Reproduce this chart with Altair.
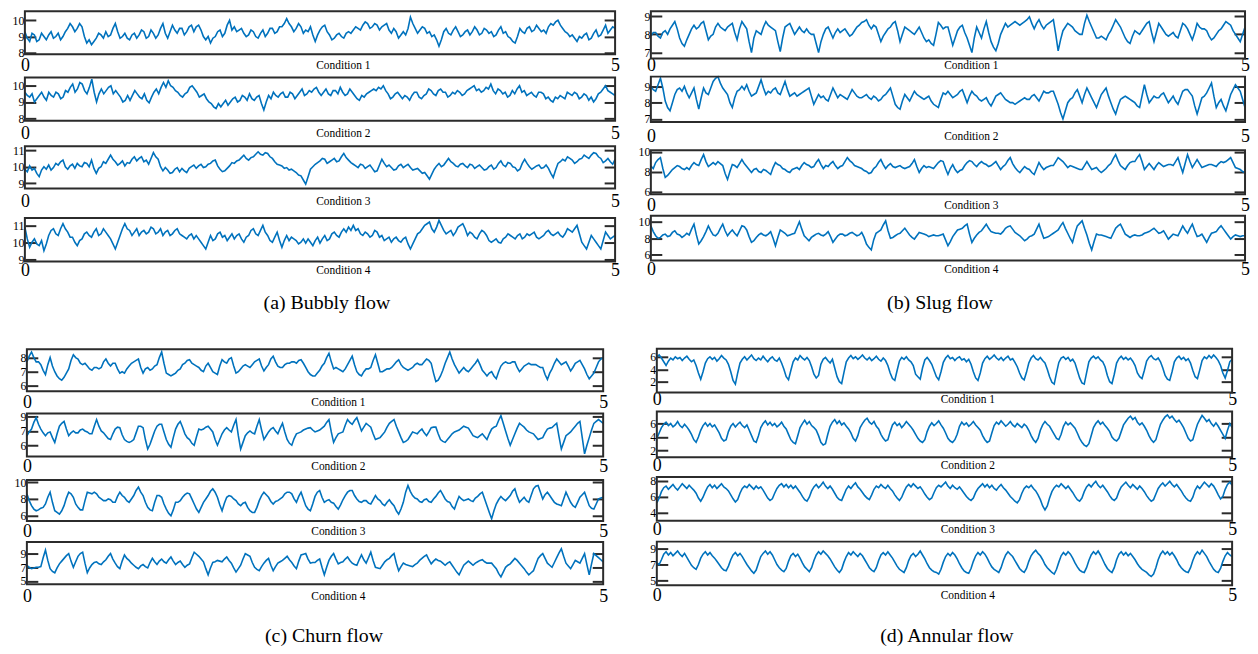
import altair as alt
import pandas as pd

# ---------------- values (evenly spaced over 0..5 s) ----------------
a1 = [9.3, 8.9, 8.7, 9.2, 9.1, 8.7, 8.8, 9.2, 9.0, 8.8, 9.1, 9.3, 8.9, 9.0, 9.2, 8.8, 9.0, 9.3,
      9.5, 9.8, 9.6, 9.3, 9.5, 9.8, 9.6, 9.0, 8.6, 8.8, 8.5, 8.7, 8.9, 9.2, 9.1, 8.9, 9.3, 9.0,
      9.1, 9.5, 9.8, 9.3, 8.9, 9.0, 9.2, 8.9, 8.8, 9.1, 9.2, 8.9, 9.1, 9.4, 9.3, 8.9, 9.0, 9.4,
      9.2, 8.9, 9.1, 9.5, 9.8, 9.2, 8.9, 9.3, 9.7, 9.4, 9.2, 9.5, 9.5, 9.1, 9.3, 9.6, 9.7, 9.3,
      9.6, 9.7, 9.4, 9.0, 8.8, 9.0, 8.6, 8.9, 9.0, 9.3, 9.4, 9.0, 9.2, 9.7, 10.0, 9.4, 9.6, 9.3,
      9.4, 9.5, 9.2, 9.0, 9.1, 9.4, 9.3, 9.0, 8.9, 9.2, 9.4, 9.0, 9.2, 9.5, 9.5, 9.2, 9.3, 9.6,
      9.6, 9.8, 10.1, 9.8, 9.6, 9.3, 9.5, 9.8, 9.6, 9.2, 9.4, 9.3, 9.6, 9.1, 8.7, 9.1, 9.4, 9.6,
      9.7, 9.3, 9.1, 8.8, 8.9, 9.1, 9.2, 9.0, 8.9, 9.2, 9.3, 9.2, 9.4, 9.6, 9.5, 9.4, 9.7, 9.9,
      9.8, 9.5, 9.6, 9.8, 9.7, 9.4, 9.6, 9.7, 9.8, 9.4, 9.2, 9.5, 9.3, 8.9, 9.1, 9.3, 9.1, 9.5,
      10.2, 9.8, 9.5, 9.2, 9.4, 9.6, 9.5, 9.2, 9.3, 9.0, 9.1, 8.8, 8.4, 8.8, 9.3, 9.5, 9.2, 9.1,
      9.4, 9.6, 9.3, 9.0, 9.1, 9.3, 9.4, 9.1, 9.3, 9.6, 9.4, 9.1, 9.2, 9.5, 9.4, 9.2, 9.3, 9.0,
      9.1, 9.4, 9.6, 9.2, 9.3, 9.0, 8.9, 8.7, 8.6, 9.0, 9.5, 9.3, 9.2, 9.5, 9.6, 9.3, 9.4, 9.7,
      9.5, 9.3, 9.4, 9.2, 9.6, 9.8, 9.7, 9.9, 10.0, 9.7, 9.5, 9.3, 9.2, 9.0, 9.1, 8.9, 8.7, 9.0,
      8.9, 9.1, 9.2, 8.8, 8.9, 9.2, 9.4, 9.0, 9.1, 9.4, 9.7, 9.2, 9.4, 9.6, 9.5]
a2 = [9.6, 9.4, 9.3, 9.5, 9.0, 9.2, 9.4, 9.6, 9.3, 9.1, 9.6, 9.4, 9.3, 9.6, 9.5, 9.2, 9.3, 9.7,
      9.6, 9.9, 10.1, 9.6, 9.8, 10.2, 10.1, 9.7, 9.5, 9.9, 10.4, 9.6, 9.0, 9.5, 9.8, 9.5, 9.7, 9.9,
      10.0, 9.5, 9.7, 9.5, 9.3, 9.0, 9.1, 9.4, 9.1, 9.4, 9.7, 9.5, 9.3, 9.2, 9.5, 9.1, 8.95, 9.3,
      9.6, 9.8, 9.5, 9.9, 10.2, 9.9, 10.3, 10.0, 9.9, 9.7, 9.6, 9.4, 9.3, 9.5, 9.6, 9.9, 10.0, 9.8,
      9.6, 9.3, 9.4, 9.5, 9.2, 9.0, 8.9, 8.7, 8.6, 8.9, 8.7, 8.9, 9.1, 8.8, 9.0, 9.2, 9.3, 9.0,
      9.1, 9.4, 9.3, 9.1, 9.5, 9.2, 9.1, 9.3, 9.4, 8.9, 8.5, 9.0, 9.4, 9.2, 9.6, 9.4, 9.3, 9.5,
      9.6, 9.3, 9.3, 9.6, 9.5, 9.2, 9.4, 9.6, 9.8, 9.4, 9.5, 9.7, 9.6, 9.8, 9.9, 9.6, 9.4, 9.6,
      9.8, 9.5, 9.4, 9.7, 9.7, 9.5, 9.9, 9.6, 9.4, 9.5, 9.8, 9.6, 9.4, 9.2, 9.1, 9.4, 9.3, 9.5,
      9.6, 9.7, 9.8, 9.7, 9.9, 9.8, 10.0, 9.7, 9.5, 9.2, 9.3, 9.5, 9.6, 9.4, 9.2, 9.4, 9.3, 9.1,
      9.4, 9.6, 9.6, 9.3, 9.2, 9.4, 9.5, 9.8, 9.7, 9.5, 9.4, 9.7, 9.8, 9.6, 9.6, 9.3, 9.4, 9.6,
      9.5, 9.7, 9.6, 9.4, 9.5, 9.7, 9.8, 9.9, 10.0, 9.7, 9.8, 9.6, 9.7, 9.9, 9.8, 10.1, 9.7, 9.5,
      9.8, 9.7, 9.5, 9.6, 9.3, 9.4, 9.7, 9.5, 9.8, 10.0, 9.6, 9.7, 9.4, 9.5, 9.6, 9.4, 9.3, 9.6,
      9.6, 9.5, 9.2, 9.3, 9.1, 9.0, 9.3, 9.2, 9.4, 9.3, 9.2, 9.6, 9.5, 9.4, 9.6, 9.5, 9.2, 9.3,
      9.5, 9.4, 9.1, 9.3, 9.0, 9.2, 9.5, 9.6, 9.8, 10.0, 9.7, 9.6, 9.5, 9.4]
a3 = [9.85, 9.7, 10.05, 9.8, 9.9, 9.6, 9.4, 9.8, 10.0, 9.85, 10.1, 9.8, 9.95, 10.2, 10.1, 10.3,
      10.4, 10.0, 9.85, 10.05, 10.15, 9.9, 10.2, 10.05, 10.0, 10.25, 10.2, 10.0, 10.4, 9.9, 9.6,
      9.9, 10.0, 10.3, 10.2, 10.45, 10.7, 10.45, 10.3, 10.1, 10.2, 10.35, 10.05, 10.25, 10.2,
      10.45, 10.6, 10.35, 10.5, 10.6, 10.3, 10.4, 10.15, 10.5, 10.85, 10.6, 10.45, 10.0, 9.75,
      9.95, 9.8, 9.6, 9.65, 9.85, 9.95, 9.7, 9.9, 9.75, 9.65, 9.9, 10.0, 10.1, 9.9, 10.05, 10.15,
      9.95, 10.0, 10.15, 10.2, 10.35, 10.4, 10.05, 9.85, 9.7, 9.75, 9.9, 10.05, 10.25, 10.2,
      10.35, 10.4, 10.55, 10.7, 10.5, 10.4, 10.55, 10.6, 10.75, 10.9, 10.75, 10.7, 10.85, 10.8,
      10.6, 10.5, 10.3, 10.15, 10.1, 10.05, 9.9, 9.95, 9.8, 9.85, 9.75, 9.65, 9.5, 9.45, 9.2,
      8.95, 9.4, 9.85, 10.0, 10.15, 10.25, 10.35, 10.5, 10.45, 10.2, 10.3, 10.4, 10.5, 10.3,
      10.35, 10.6, 10.8, 10.55, 10.4, 10.25, 10.15, 10.05, 9.95, 10.15, 10.1, 9.9, 10.0, 10.1,
      9.9, 9.7, 9.75, 10.1, 10.45, 10.2, 10.0, 10.1, 9.95, 9.8, 9.85, 10.05, 10.15, 9.95, 10.05,
      10.15, 9.95, 9.8, 9.85, 9.9, 9.75, 9.6, 9.65, 9.45, 9.25, 9.55, 9.85, 10.05, 10.2, 10.0,
      10.1, 10.3, 10.5, 10.3, 10.2, 10.05, 10.0, 10.15, 10.2, 10.05, 9.95, 10.15, 10.1, 9.9, 10.0,
      10.1, 9.95, 9.8, 9.85, 10.0, 10.1, 9.85, 9.95, 10.2, 10.35, 10.1, 10.0, 10.25, 10.2, 10.0,
      9.95, 9.75, 9.85, 10.2, 10.45, 10.2, 10.0, 9.85, 9.95, 10.05, 10.1, 9.9, 9.95, 10.1, 9.9,
      9.6, 9.35, 9.8, 10.2, 10.3, 10.45, 10.35, 10.6, 10.5, 10.4, 10.2, 10.3, 10.45, 10.5, 10.7,
      10.6, 10.5, 10.7, 10.85, 10.8, 10.6, 10.5, 10.25, 10.35, 10.5, 10.3, 10.15, 10.45]
a4 = [10.9, 10.2, 9.7, 10.0, 10.2, 9.9, 9.8, 10.1, 9.5, 9.9, 10.4, 10.7, 10.8, 10.5, 10.4,
      10.8, 11.1, 10.8, 10.6, 10.3, 10.3, 10.0, 9.8, 10.1, 10.2, 10.5, 10.6, 10.4, 10.3, 10.6,
      10.8, 10.4, 10.5, 10.8, 10.6, 10.4, 10.2, 9.9, 9.6, 10.0, 10.4, 10.8, 11.1, 10.8, 10.7,
      10.4, 10.6, 10.8, 10.4, 10.6, 10.7, 10.5, 10.6, 10.9, 10.8, 10.5, 10.6, 10.8, 10.4, 10.6,
      10.7, 10.4, 10.5, 10.7, 10.8, 10.5, 10.4, 10.3, 10.2, 10.4, 10.5, 10.2, 10.4, 10.2, 10.0,
      9.8, 9.6, 10.0, 10.4, 10.1, 10.2, 10.5, 10.6, 10.3, 10.4, 10.1, 10.3, 10.5, 10.2, 10.4,
      10.5, 10.2, 10.0, 10.3, 10.4, 10.7, 10.8, 10.5, 10.4, 10.7, 11.0, 10.6, 10.4, 10.1, 10.0,
      10.3, 10.6, 10.1, 9.7, 10.1, 10.4, 10.1, 10.3, 10.2, 10.1, 9.9, 10.0, 10.2, 9.95, 10.2,
      10.0, 9.8, 10.1, 10.3, 9.95, 10.2, 10.4, 10.1, 10.2, 10.5, 10.6, 10.4, 10.3, 10.6, 10.8,
      10.6, 10.9, 10.7, 11.0, 10.7, 10.8, 10.5, 10.4, 10.6, 10.5, 10.3, 10.4, 10.7, 10.6, 10.3,
      10.4, 10.1, 10.2, 10.3, 10.0, 10.2, 10.3, 10.1, 10.0, 10.2, 10.3, 9.9, 9.6, 9.9, 10.2,
      10.5, 10.6, 10.8, 11.0, 11.1, 11.2, 10.8, 10.6, 10.9, 11.3, 11.0, 10.7, 10.5, 10.6, 10.7,
      10.4, 10.6, 10.9, 11.0, 11.1, 10.8, 10.4, 10.6, 10.5, 10.3, 10.2, 10.5, 10.7, 10.6, 10.4,
      10.1, 10.0, 10.1, 10.2, 10.0, 9.95, 10.2, 10.3, 10.5, 10.4, 10.3, 10.2, 10.4, 10.5, 10.2,
      10.3, 10.5, 10.4, 10.5, 10.6, 10.3, 10.2, 10.3, 10.4, 10.6, 10.7, 10.5, 10.4, 10.5, 10.6,
      10.4, 10.3, 10.5, 10.8, 10.7, 10.6, 10.8, 11.0, 10.5, 10.0, 9.8, 9.6, 10.0, 10.4, 10.2,
      10.0, 9.8, 9.6, 10.1, 10.6, 10.4, 10.2, 10.3, 10.4]

b1 = [7.9, 8.1, 8.1, 7.9, 7.8, 8.1, 8.2, 8.0, 8.3, 8.5, 8.7, 8.3, 7.8, 7.5, 7.35, 7.7, 8.0, 8.3,
      8.5, 8.3, 8.4, 8.6, 8.7, 8.2, 7.7, 7.9, 8.0, 8.4, 8.6, 8.4, 8.3, 8.2, 8.4, 8.5, 8.6, 8.1,
      7.7, 8.3, 8.7, 8.5, 8.3, 7.6, 7.0, 7.8, 8.2, 8.1, 8.0, 8.4, 8.7, 8.5, 8.4, 8.3, 8.2, 7.6,
      7.05, 7.8, 8.4, 8.5, 8.6, 8.3, 8.0, 8.2, 8.4, 8.2, 8.1, 8.3, 8.1, 8.0, 8.0, 7.5, 7.0, 7.6,
      8.0, 8.3, 8.4, 8.1, 7.8, 8.1, 8.3, 8.1, 8.2, 8.3, 8.1, 7.9, 8.0, 8.2, 8.4, 8.5, 8.65, 8.7,
      8.8, 8.5, 8.3, 8.5, 8.4, 8.0, 7.6, 7.9, 8.1, 8.3, 8.4, 8.6, 8.7, 8.2, 7.6, 8.0, 8.4, 8.3,
      8.2, 8.1, 8.0, 8.2, 8.4, 8.1, 7.8, 7.6, 7.7, 7.5, 7.4, 8.0, 8.65, 8.5, 8.3, 8.4, 8.4, 7.9,
      7.4, 7.8, 8.2, 8.4, 8.5, 8.1, 7.8, 7.4, 7.0, 7.8, 8.4, 8.1, 7.8, 8.3, 8.7, 8.1, 7.6, 7.3,
      7.1, 7.5, 8.0, 8.3, 8.6, 8.4, 8.5, 8.6, 8.7, 8.6, 8.5, 8.6, 8.7, 8.8, 8.96, 8.6, 8.3, 8.6,
      8.8, 8.5, 8.3, 8.5, 8.6, 8.7, 8.8, 8.0, 7.1, 7.7, 8.2, 8.4, 8.6, 8.5, 8.4, 8.2, 8.1, 8.0,
      8.0, 8.6, 9.05, 8.7, 8.4, 8.1, 7.8, 7.8, 7.9, 7.8, 7.7, 8.0, 8.2, 8.5, 8.8, 8.6, 8.4, 8.1,
      7.8, 7.6, 7.5, 7.9, 8.2, 8.1, 8.0, 8.2, 8.4, 8.6, 8.7, 8.1, 7.6, 8.1, 8.6, 8.4, 8.2, 8.0,
      7.9, 8.0, 8.1, 7.9, 7.8, 8.2, 8.6, 8.5, 8.3, 8.0, 7.7, 8.1, 8.6, 8.4, 8.3, 8.3, 8.2, 7.9,
      7.7, 7.8, 8.0, 8.2, 8.3, 8.5, 8.7, 8.6, 8.5, 8.2, 8.0, 7.8, 7.6, 8.0, 8.4]
b2 = [9.0, 8.8, 8.7, 9.1, 9.5, 8.9, 8.1, 7.7, 7.5, 8.0, 8.5, 8.8, 8.9, 8.7, 9.0, 8.6, 8.3, 8.6,
      8.9, 8.2, 7.6, 8.3, 8.9, 8.6, 8.5, 8.9, 9.3, 9.5, 9.6, 9.2, 8.9, 8.7, 8.5, 8.0, 7.7, 8.3,
      8.7, 8.8, 9.0, 8.8, 9.1, 8.7, 8.4, 8.5, 8.6, 9.0, 9.4, 8.9, 8.5, 8.7, 8.6, 8.8, 8.9, 8.6,
      8.5, 8.9, 9.3, 8.8, 8.4, 8.5, 8.6, 8.4, 8.5, 8.6, 8.7, 8.8, 8.9, 8.4, 7.9, 8.2, 8.5, 8.3,
      8.4, 8.2, 8.1, 8.5, 8.9, 8.6, 8.3, 8.5, 8.4, 8.3, 8.2, 8.5, 8.8, 8.6, 8.4, 8.3, 8.3, 8.4,
      8.5, 8.3, 8.2, 8.4, 8.3, 8.1, 8.2, 8.4, 8.5, 8.7, 8.9, 8.4, 7.9, 7.7, 7.6, 8.1, 8.5, 8.3,
      8.1, 8.4, 8.7, 8.5, 8.4, 8.3, 8.2, 8.3, 8.4, 8.1, 7.9, 7.8, 7.7, 8.2, 8.6, 8.5, 8.7, 8.5,
      8.3, 8.4, 8.5, 8.7, 8.8, 8.4, 8.0, 8.4, 8.7, 8.5, 8.4, 8.2, 8.1, 8.2, 8.3, 8.0, 7.8, 8.1,
      8.4, 8.5, 8.6, 8.4, 8.2, 8.1, 8.0, 8.0, 7.9, 8.0, 8.1, 8.2, 8.3, 8.2, 8.2, 8.4, 8.5, 8.3,
      8.1, 8.4, 8.7, 8.6, 8.6, 8.7, 8.7, 8.3, 7.9, 7.4, 7.0, 7.5, 8.0, 8.2, 8.3, 8.6, 8.8, 8.4,
      8.0, 8.5, 8.9, 8.6, 8.3, 8.0, 7.7, 8.1, 8.5, 8.7, 8.9, 8.4, 8.0, 7.6, 7.3, 7.8, 8.2, 8.3,
      8.4, 8.3, 8.2, 8.1, 8.0, 7.8, 7.7, 8.4, 9.1, 8.5, 8.0, 8.2, 8.4, 8.3, 8.3, 8.5, 8.6, 8.3,
      8.0, 8.2, 8.4, 8.1, 7.9, 8.3, 8.7, 8.8, 8.8, 8.6, 8.4, 7.8, 7.3, 7.8, 8.3, 8.4, 8.6, 8.9,
      9.2, 8.4, 7.7, 8.0, 8.2, 7.8, 7.5, 8.0, 8.5, 8.8, 9.1, 8.9, 8.7, 8.2, 7.7]
b3 = [8.55, 8.3, 8.9, 9.2, 9.4, 8.3, 7.4, 7.6, 7.9, 8.2, 8.4, 8.6, 8.5, 8.3, 8.2, 8.4, 8.2, 8.6,
      8.9, 8.7, 8.6, 9.2, 9.7, 9.0, 8.5, 8.7, 8.9, 8.7, 9.0, 8.8, 8.6, 7.8, 7.2, 8.0, 8.7, 8.6,
      8.4, 8.8, 9.2, 8.8, 8.5, 8.2, 7.9, 8.2, 8.3, 8.0, 7.9, 8.2, 8.1, 7.9, 7.7, 8.4, 8.9, 8.7,
      8.6, 8.3, 8.2, 8.0, 7.9, 8.2, 8.3, 8.4, 8.2, 8.6, 8.9, 8.7, 8.6, 8.4, 8.5, 8.9, 9.2, 8.7,
      8.3, 8.6, 8.5, 8.8, 9.0, 8.6, 8.3, 8.5, 8.6, 9.0, 9.4, 9.1, 8.9, 8.6, 8.5, 8.4, 8.3, 8.1,
      8.0, 7.8, 7.9, 8.3, 8.5, 8.9, 9.2, 8.7, 8.3, 8.6, 8.8, 8.5, 8.4, 8.5, 8.6, 8.4, 8.3, 8.4,
      8.5, 8.8, 9.2, 8.5, 7.9, 8.3, 8.6, 8.4, 8.5, 8.4, 8.3, 8.6, 8.9, 9.1, 9.0, 8.3, 7.7, 8.3,
      8.7, 8.2, 7.9, 8.1, 8.2, 8.6, 8.9, 9.1, 9.0, 8.7, 8.5, 8.8, 9.0, 8.8, 8.7, 8.5, 8.6, 8.8,
      9.0, 8.6, 8.2, 8.5, 8.7, 9.1, 9.4, 8.8, 8.4, 8.1, 7.9, 8.2, 8.5, 8.3, 8.2, 7.9, 7.7, 8.3,
      8.9, 8.5, 8.2, 8.4, 8.5, 8.6, 8.6, 9.0, 9.4, 9.2, 9.0, 8.7, 8.4, 8.6, 8.5, 8.4, 8.3, 8.2,
      8.2, 8.6, 9.0, 8.6, 8.2, 8.3, 8.4, 8.1, 7.9, 8.1, 8.3, 8.6, 8.8, 9.3, 9.7, 9.1, 8.6, 8.4,
      8.2, 8.6, 8.9, 9.0, 9.0, 9.4, 9.7, 9.0, 8.2, 8.5, 8.8, 8.5, 8.2, 8.6, 8.9, 8.7, 8.5, 8.6,
      8.7, 8.7, 8.6, 9.0, 9.4, 8.6, 7.9, 8.8, 9.7, 9.0, 8.4, 8.8, 9.2, 8.8, 8.4, 8.5, 8.6, 8.7,
      8.7, 8.6, 8.5, 8.8, 9.0, 8.9, 9.0, 9.2, 9.4, 8.9, 8.4, 8.3, 8.2, 8.0, 7.9]
b4 = [9.5, 8.8, 8.3, 8.0, 8.1, 8.4, 8.5, 8.2, 8.3, 8.7, 8.9, 8.5, 8.4, 8.1, 8.3, 8.6, 8.4, 9.1,
      9.7, 8.4, 7.3, 7.7, 8.2, 8.8, 9.5, 8.9, 8.4, 8.3, 8.6, 9.2, 9.7, 8.9, 8.3, 8.7, 9.0, 8.6,
      8.3, 8.9, 9.5, 9.4, 9.0, 8.2, 7.5, 7.7, 8.1, 8.4, 8.6, 8.4, 8.3, 8.5, 8.8, 8.0, 7.1, 8.1,
      9.0, 8.8, 8.6, 8.3, 8.4, 8.5, 8.6, 9.3, 10.0, 9.1, 8.3, 8.0, 7.7, 8.1, 8.3, 8.5, 8.6, 8.4,
      8.3, 8.5, 8.8, 8.2, 7.5, 7.9, 8.3, 8.5, 8.5, 8.3, 8.4, 8.6, 8.7, 8.5, 8.3, 8.4, 8.7, 8.1,
      7.3, 6.9, 6.6, 7.8, 8.6, 8.8, 9.0, 9.6, 10.1, 8.9, 8.0, 8.1, 8.3, 8.5, 8.6, 8.9, 9.2, 8.8,
      8.4, 8.1, 7.9, 8.3, 8.7, 8.6, 8.5, 8.4, 8.2, 8.3, 8.4, 8.3, 8.3, 8.4, 8.5, 7.8, 7.1, 7.6,
      8.2, 8.6, 9.0, 9.1, 9.2, 9.5, 9.7, 8.5, 7.5, 8.0, 8.4, 8.7, 8.9, 9.3, 9.7, 9.2, 8.8, 8.7,
      8.6, 8.6, 8.5, 8.8, 9.2, 9.4, 9.5, 9.1, 8.7, 8.5, 8.3, 8.0, 7.7, 7.9, 8.2, 8.3, 8.5, 9.1,
      9.7, 8.8, 8.0, 8.1, 8.2, 8.4, 8.6, 8.8, 9.0, 9.5, 9.9, 9.2, 8.6, 8.0, 7.5, 8.6, 9.5, 9.8,
      10.1, 9.2, 8.4, 7.4, 6.6, 7.6, 8.5, 8.4, 8.4, 8.3, 8.2, 8.1, 8.0, 8.6, 9.2, 9.5, 9.7, 9.1,
      8.5, 8.3, 8.1, 8.3, 8.4, 8.3, 8.3, 8.4, 8.6, 8.7, 8.8, 9.0, 9.2, 8.9, 8.6, 8.7, 8.9, 8.4,
      7.9, 8.2, 8.5, 8.4, 8.3, 8.9, 9.5, 9.0, 8.6, 9.2, 9.7, 8.9, 8.2, 8.3, 8.5, 8.0, 7.5, 8.1,
      8.6, 8.7, 8.8, 9.2, 9.5, 9.1, 8.7, 8.3, 7.9, 8.2, 8.4, 8.3, 8.2, 8.3, 8.3]

c1 = [7.7, 8.1, 8.4, 8.0, 7.7, 7.7, 7.5, 7.1, 6.8, 7.5, 8.0, 7.4, 7.0, 6.7, 6.5, 6.4, 6.6, 6.9,
      7.2, 7.8, 8.2, 8.0, 7.9, 7.6, 7.5, 7.6, 7.4, 7.2, 7.1, 7.3, 7.3, 7.2, 7.3, 7.7, 7.9, 7.6,
      7.4, 7.6, 7.6, 7.2, 6.9, 7.0, 6.9, 7.2, 7.4, 7.6, 7.7, 7.8, 7.9, 7.3, 6.9, 7.2, 7.3, 7.1,
      7.2, 7.4, 7.5, 8.0, 8.4, 7.6, 6.9, 6.8, 6.7, 6.8, 6.9, 7.1, 7.2, 7.5, 7.6, 7.8, 7.85, 7.6,
      7.5, 7.4, 7.3, 7.1, 7.0, 7.4, 7.6, 7.3, 7.0, 6.9, 6.8, 7.4, 7.85, 7.7, 7.6, 7.9, 8.0, 7.4,
      6.9, 7.0, 7.2, 7.4, 7.5, 7.4, 7.3, 7.5, 7.7, 7.8, 7.9, 7.4, 7.05, 7.3, 7.5, 7.9, 8.1, 7.7,
      7.4, 7.3, 7.3, 7.5, 7.6, 7.6, 7.7, 7.7, 7.6, 7.8, 7.85, 7.6, 7.3, 7.0, 6.8, 6.7, 6.7, 6.9,
      7.1, 7.4, 7.6, 8.0, 8.3, 7.7, 7.2, 7.3, 7.2, 7.1, 7.0, 7.2, 7.5, 7.8, 8.1, 7.5, 7.0, 6.8,
      6.7, 7.0, 7.2, 7.2, 7.3, 7.8, 8.2, 7.6, 7.0, 7.0, 7.1, 7.2, 7.2, 7.3, 7.5, 7.7, 7.85, 7.5,
      7.3, 7.2, 7.1, 7.2, 7.3, 7.5, 7.6, 7.5, 7.5, 7.7, 7.9, 7.8, 7.6, 6.9, 6.3, 6.4, 6.7, 7.1,
      7.6, 8.0, 8.4, 7.9, 7.5, 7.2, 6.9, 7.1, 7.3, 7.1, 7.0, 7.2, 7.4, 7.6, 7.85, 7.5, 7.1, 6.9,
      6.7, 6.9, 7.0, 6.7, 6.5, 7.0, 7.4, 7.6, 7.7, 7.6, 7.6, 7.7, 7.7, 7.3, 7.0, 7.2, 7.4, 7.5,
      7.6, 7.5, 7.5, 7.5, 7.4, 7.3, 7.3, 6.8, 6.45, 6.9, 7.2, 7.6, 7.9, 7.7, 7.5, 7.6, 7.7, 7.4,
      7.05, 7.3, 7.6, 7.7, 7.8, 7.5, 7.2, 6.8, 6.5, 6.7, 6.9, 7.3, 7.7, 7.9, 8.0]
c2 = [7.0, 7.4, 7.7, 8.4, 8.9, 8.2, 7.7, 7.3, 7.0, 7.3, 7.4, 6.8, 6.3, 7.2, 8.0, 8.3, 8.5, 7.7,
      7.0, 7.3, 7.5, 7.3, 7.3, 7.6, 7.7, 7.5, 7.4, 7.2, 7.2, 8.0, 8.7, 8.0, 7.5, 7.3, 7.0, 6.7,
      6.6, 7.2, 7.7, 7.9, 7.85, 7.1, 6.6, 6.4, 6.3, 6.4, 6.6, 7.3, 8.0, 8.0, 7.85, 6.6, 5.6, 6.1,
      6.8, 7.5, 8.0, 8.2, 8.2, 7.4, 6.6, 6.1, 5.8, 6.8, 7.7, 8.2, 8.5, 7.9, 7.2, 6.8, 6.6, 6.2,
      6.0, 6.9, 7.7, 7.6, 7.7, 7.9, 8.0, 7.7, 7.4, 6.6, 6.0, 6.6, 7.2, 7.6, 7.85, 7.6, 7.4, 8.1,
      8.7, 7.0, 5.6, 6.3, 7.0, 7.3, 7.5, 7.3, 7.2, 8.0, 8.7, 7.6, 6.6, 7.0, 7.4, 7.7, 7.85, 7.5,
      7.2, 7.8, 8.3, 7.4, 6.6, 6.2, 6.0, 6.7, 7.2, 7.3, 7.4, 7.6, 7.7, 7.8, 7.85, 7.6, 7.4, 7.5,
      7.6, 7.8, 8.0, 8.4, 8.7, 7.4, 6.3, 6.8, 7.2, 7.3, 7.4, 8.1, 8.7, 8.4, 8.2, 8.6, 8.9, 8.2,
      7.5, 7.9, 8.3, 8.1, 7.9, 7.2, 6.6, 6.7, 6.8, 7.1, 7.4, 7.9, 8.3, 8.5, 8.7, 8.0, 7.4, 6.8,
      6.3, 6.4, 6.6, 7.0, 7.4, 7.3, 7.2, 7.5, 7.7, 7.3, 7.0, 7.4, 7.85, 7.9, 7.9, 7.2, 6.6, 6.4,
      6.3, 6.6, 6.9, 7.2, 7.4, 7.5, 7.6, 7.8, 8.0, 7.9, 7.8, 7.4, 7.0, 6.9, 6.8, 7.0, 7.2, 6.9,
      6.6, 7.2, 7.7, 7.9, 8.0, 8.6, 9.1, 8.3, 7.5, 6.7, 6.0, 6.6, 7.2, 7.8, 8.3, 8.1, 7.9, 7.6,
      7.4, 7.3, 7.2, 6.9, 6.6, 6.7, 6.8, 7.3, 7.7, 7.8, 7.85, 8.1, 8.3, 6.9, 5.6, 6.3, 7.0, 7.2,
      7.4, 7.7, 8.0, 8.3, 8.5, 6.8, 5.1, 6.0, 6.8, 7.6, 8.3, 8.5, 8.7, 8.5, 8.3]
c3 = [8.6, 7.8, 7.2, 6.8, 6.6, 6.7, 6.9, 7.0, 7.4, 8.2, 8.8, 7.6, 6.6, 6.4, 6.2, 6.6, 7.2, 8.1,
      8.8, 8.6, 8.2, 7.4, 7.0, 6.7, 6.7, 7.8, 8.8, 8.7, 8.6, 8.8, 8.6, 8.2, 8.0, 7.8, 7.8, 8.0,
      7.9, 7.6, 7.6, 8.3, 8.8, 8.4, 8.2, 7.8, 7.6, 8.0, 8.4, 9.0, 9.4, 8.8, 8.4, 7.6, 7.0, 6.7,
      6.6, 7.6, 8.4, 8.4, 8.2, 7.4, 6.8, 6.3, 6.0, 6.7, 7.6, 7.6, 7.8, 8.2, 8.5, 8.7, 8.6, 8.0,
      7.4, 6.8, 6.4, 7.0, 7.6, 8.0, 8.4, 8.9, 9.2, 8.8, 8.2, 7.3, 6.6, 7.5, 8.2, 8.4, 8.3, 8.0,
      7.8, 7.4, 7.2, 7.5, 7.6, 7.0, 6.6, 6.4, 6.4, 7.0, 7.8, 8.4, 8.8, 8.5, 8.2, 7.7, 7.4, 7.7,
      7.8, 8.0, 8.2, 8.6, 8.8, 8.8, 8.6, 8.0, 7.6, 8.3, 8.8, 8.0, 7.2, 6.8, 6.6, 7.4, 8.3, 8.8,
      9.0, 8.2, 7.6, 7.8, 7.9, 7.6, 7.5, 7.1, 6.8, 7.3, 7.9, 8.4, 8.8, 9.0, 9.0, 8.4, 8.0, 7.7,
      7.6, 7.8, 7.8, 7.5, 7.4, 7.9, 8.4, 8.0, 7.8, 7.4, 7.2, 7.6, 7.9, 7.5, 7.2, 6.6, 6.2, 6.8,
      7.6, 8.8, 9.6, 8.9, 8.4, 8.1, 8.0, 7.7, 7.6, 7.9, 8.0, 7.7, 7.6, 8.0, 8.3, 8.7, 9.0, 8.5,
      8.0, 7.7, 7.6, 7.1, 6.8, 7.6, 8.3, 8.0, 7.8, 7.9, 8.0, 7.8, 7.7, 8.1, 8.3, 8.6, 8.8, 8.0,
      7.2, 6.4, 5.65, 6.6, 7.4, 7.9, 8.3, 8.0, 7.8, 8.1, 8.4, 8.9, 9.2, 8.3, 7.6, 7.9, 8.2, 7.8,
      7.6, 8.4, 9.2, 9.5, 9.6, 8.8, 8.0, 8.5, 8.8, 8.4, 8.0, 7.6, 7.4, 7.3, 7.2, 8.0, 8.8, 8.2,
      7.6, 7.2, 7.0, 7.6, 8.2, 8.5, 8.8, 8.0, 7.2, 6.9, 6.8, 7.4, 8.0, 8.1, 8.2]
c4 = [7.3, 7.0, 6.8, 6.9, 7.0, 7.0, 7.1, 8.4, 9.5, 8.0, 6.8, 6.4, 6.2, 6.9, 7.5, 7.9, 8.3, 8.7,
      9.0, 7.9, 7.0, 7.8, 8.6, 9.0, 9.2, 7.6, 6.2, 6.9, 7.4, 7.7, 7.8, 7.5, 7.4, 7.8, 8.1, 8.6,
      9.0, 8.2, 7.6, 7.1, 6.8, 7.9, 8.8, 8.3, 8.0, 7.6, 7.3, 7.0, 6.8, 7.2, 7.4, 7.1, 6.9, 7.7,
      8.3, 7.8, 7.4, 7.9, 8.2, 7.8, 7.6, 8.1, 8.5, 7.9, 7.4, 7.7, 7.9, 7.4, 7.0, 7.3, 7.5, 8.4,
      9.2, 8.9, 8.6, 8.2, 7.8, 6.8, 5.9, 6.9, 7.7, 7.8, 8.0, 7.9, 7.8, 8.2, 8.5, 8.0, 7.6, 6.9,
      6.3, 6.8, 7.3, 8.2, 9.0, 8.8, 8.6, 7.7, 7.0, 6.7, 6.5, 7.1, 7.6, 8.0, 8.3, 7.3, 6.5, 7.1,
      7.6, 7.8, 8.0, 8.3, 8.6, 8.1, 7.7, 7.2, 6.8, 7.9, 8.8, 8.9, 9.0, 8.2, 7.6, 7.7, 7.7, 8.0,
      8.2, 7.0, 5.9, 7.0, 8.0, 8.6, 9.0, 8.2, 7.5, 7.7, 7.8, 8.2, 8.5, 8.0, 7.6, 7.4, 7.3, 8.1,
      8.8, 8.1, 7.6, 8.4, 9.2, 8.0, 7.0, 6.9, 6.8, 7.3, 7.8, 8.1, 8.3, 8.7, 9.0, 7.6, 6.5, 7.1,
      7.6, 7.4, 7.3, 7.2, 7.1, 7.4, 7.6, 8.0, 8.3, 8.6, 8.8, 8.1, 7.5, 7.9, 8.2, 8.0, 7.9, 7.6,
      7.3, 7.6, 7.8, 7.3, 6.8, 6.3, 5.9, 6.6, 7.3, 7.6, 7.9, 7.6, 7.3, 7.6, 7.8, 8.0, 8.1, 7.8,
      7.6, 7.6, 7.6, 7.2, 6.8, 6.1, 5.6, 6.3, 7.0, 7.3, 7.5, 7.9, 8.3, 8.0, 7.6, 7.2, 6.8, 6.3,
      5.9, 6.2, 6.5, 7.4, 8.3, 8.7, 9.0, 8.3, 7.6, 7.3, 7.0, 7.7, 8.4, 9.1, 9.7, 8.6, 7.6, 7.2,
      6.8, 7.4, 8.0, 7.8, 7.6, 8.3, 9.0, 7.4, 5.9, 7.5, 9.0, 8.7, 8.4, 8.1, 7.8]

d1 = [6.0, 6.3, 5.8, 5.2, 4.6, 5.3, 5.8, 5.5, 6.0, 5.7, 5.9, 5.4, 5.8, 6.1, 5.6, 5.2, 5.5, 4.6,
      3.4, 2.4, 3.6, 5.0, 5.7, 6.0, 5.6, 5.9, 5.3, 5.7, 6.2, 5.8, 5.5, 4.8, 3.6, 2.2, 1.6, 3.4,
      5.0, 5.6, 6.0, 5.5, 5.9, 6.3, 5.7, 5.4, 5.8, 5.5, 6.1, 5.6, 5.2, 5.7, 6.0, 5.5, 5.3, 5.8,
      5.0, 4.0, 2.8, 2.3, 3.8, 5.2, 5.8, 5.5, 6.2, 5.8, 5.5, 5.9, 5.4, 4.4, 3.2, 2.6, 3.0, 4.8,
      5.6, 5.9, 5.4, 5.0, 5.6, 4.2, 2.8, 2.0, 1.7, 3.5, 5.2, 5.8, 6.2, 5.7, 6.0, 5.6, 5.9, 6.3,
      5.8, 5.5, 5.9, 5.4, 5.7, 6.1, 5.6, 5.3, 5.8, 5.4, 4.6, 3.4, 2.5, 2.2, 3.8, 5.3, 5.9, 5.6,
      6.0, 5.5, 5.2, 4.6, 3.2, 2.8, 2.4, 4.2, 5.5, 5.9, 5.4, 4.8, 3.8, 2.8, 2.3, 3.6, 5.1, 5.8,
      6.2, 5.7, 5.9, 5.4, 5.8, 6.0, 5.5, 5.7, 5.2, 5.6, 4.8, 3.6, 2.6, 2.2, 3.4, 5.0, 5.7, 6.1,
      5.6, 5.9, 6.3, 5.8, 5.5, 5.9, 5.4, 5.8, 6.1, 5.5, 5.7, 5.1, 4.4, 3.4, 2.6, 2.3, 3.5, 5.0,
      5.8, 6.2, 5.7, 5.5, 5.9, 5.4, 5.0, 4.0, 2.8, 1.9, 1.6, 3.4, 5.1, 5.8, 6.0, 5.6, 5.9, 5.3,
      5.6, 5.0, 3.8, 2.6, 1.8, 1.6, 3.4, 5.2, 5.8, 6.1, 5.7, 6.0, 5.5, 5.2, 4.4, 3.0, 2.0, 1.7,
      3.2, 5.0, 5.7, 6.1, 5.6, 5.9, 5.5, 5.8, 5.3, 4.6, 3.4, 2.8, 2.5, 3.8, 5.3, 5.9, 6.2, 5.7,
      5.5, 5.8, 5.2, 4.2, 3.0, 2.4, 2.2, 3.6, 5.2, 5.8, 6.1, 5.6, 5.9, 5.4, 5.7, 5.0, 3.8, 2.8,
      2.5, 3.9, 5.4, 6.0, 5.7, 6.2, 5.8, 6.3, 5.9, 5.4, 4.6, 3.4, 2.6, 3.8, 5.2, 5.6]
d2 = [3.8, 4.6, 5.4, 5.9, 6.2, 5.7, 6.0, 5.5, 5.8, 6.3, 5.7, 5.4, 5.9, 5.5, 5.0, 4.4, 3.6, 3.2,
      4.0, 5.0, 5.7, 6.1, 5.6, 6.0, 5.5, 5.8, 5.2, 4.6, 3.8, 3.4, 3.6, 4.8, 5.6, 6.0, 5.5, 5.9,
      6.2, 5.7, 5.4, 5.8, 5.0, 4.2, 3.4, 3.2, 4.2, 5.4, 6.0, 6.4, 5.8, 6.2, 5.7, 6.0, 5.5, 5.8,
      6.2, 5.6, 5.2, 4.4, 3.6, 3.2, 3.0, 4.2, 5.4, 6.0, 6.5, 5.9, 6.3, 5.7, 5.4, 5.0, 4.2, 3.2,
      2.8, 3.0, 4.4, 5.6, 6.2, 6.6, 6.0, 6.4, 5.8, 6.1, 5.6, 5.2, 4.6, 3.8, 3.4, 4.2, 5.4, 6.0,
      6.5, 6.8, 6.2, 5.9, 6.3, 5.6, 5.2, 4.4, 3.8, 3.4, 3.6, 4.8, 5.8, 6.2, 5.7, 6.0, 5.4, 5.8,
      6.3, 5.9, 5.5, 5.0, 4.4, 3.8, 3.4, 3.2, 3.6, 4.8, 5.6, 6.1, 5.7, 6.0, 6.4, 5.8, 5.3, 4.6,
      3.8, 3.4, 3.2, 3.6, 4.4, 5.6, 6.2, 5.8, 6.1, 5.6, 5.9, 6.3, 5.8, 5.4, 5.0, 4.2, 3.6, 3.2,
      3.4, 4.6, 5.7, 6.2, 5.9, 6.4, 6.0, 5.6, 5.9, 6.3, 5.8, 5.5, 6.0, 5.7, 5.4, 5.9, 5.6, 5.0,
      4.2, 3.6, 3.2, 3.8, 5.0, 5.8, 6.3, 5.9, 5.6, 5.0, 4.4, 3.8, 3.6, 4.4, 5.6, 6.2, 5.8, 6.1,
      5.7, 5.3, 4.6, 3.8, 3.2, 2.8, 2.6, 3.0, 4.2, 5.4, 6.0, 6.4, 5.9, 6.2, 5.7, 5.3, 4.8, 4.0,
      3.6, 3.4, 3.8, 4.8, 5.8, 6.3, 6.8, 7.1, 6.6, 6.9, 6.2, 5.8, 6.1, 5.6, 5.0, 4.2, 3.6, 3.2,
      3.6, 4.8, 5.9, 6.5, 7.0, 7.3, 6.8, 7.1, 6.6, 6.2, 6.5, 6.0, 5.4, 4.6, 3.8, 3.4, 3.6, 4.8,
      5.9, 6.6, 7.2, 6.8, 6.3, 6.6, 6.0, 5.6, 6.1, 5.6, 5.0, 4.4, 3.8, 5.0, 6.0, 5.4]
d3 = [5.2, 5.8, 6.6, 7.1, 7.3, 6.9, 7.2, 7.5, 7.1, 6.8, 7.2, 7.6, 7.3, 7.0, 7.4, 7.1, 6.8, 6.4,
      5.8, 5.4, 5.9, 6.6, 7.2, 7.5, 7.1, 7.4, 7.0, 7.3, 7.6, 7.2, 7.0, 6.7, 6.2, 5.7, 5.3, 5.6,
      6.4, 7.0, 7.3, 7.1, 7.5, 7.2, 6.9, 7.3, 7.0, 7.2, 6.8, 6.3, 5.8, 5.5, 5.7, 6.4, 7.0, 7.4,
      7.6, 7.2, 7.5, 7.1, 7.4, 7.0, 7.3, 6.9, 6.5, 6.0, 5.6, 5.4, 5.9, 6.7, 7.2, 7.5, 7.1, 7.4,
      7.8, 7.3, 7.0, 7.3, 6.9, 6.4, 5.9, 5.6, 5.5, 6.2, 6.9, 7.3, 7.0, 7.4, 7.7, 7.2, 6.9, 6.5,
      6.1, 5.8, 5.6, 6.2, 6.9, 7.3, 7.1, 7.5, 7.2, 7.0, 7.4, 7.0, 6.7, 6.2, 5.8, 5.5, 5.9, 6.6,
      7.2, 7.5, 7.2, 7.6, 7.3, 7.0, 7.2, 6.8, 6.3, 5.9, 5.6, 5.8, 6.5, 7.1, 7.4, 7.2, 7.5, 7.8,
      7.3, 7.0, 7.4, 7.1, 6.9, 7.2, 6.8, 6.4, 6.0, 5.7, 5.5, 5.8, 6.5, 7.0, 7.3, 7.6, 7.2, 7.5,
      7.1, 7.4, 7.0, 6.8, 7.2, 7.5, 7.1, 6.8, 6.4, 6.0, 5.7, 5.4, 5.2, 5.6, 6.4, 7.0, 7.3, 7.1,
      7.4, 7.0, 6.7, 6.2, 5.6, 4.8, 4.3, 4.8, 5.8, 6.6, 7.1, 7.4, 7.2, 7.6, 7.3, 7.0, 7.3, 6.9,
      6.5, 6.0, 5.6, 5.4, 5.8, 6.6, 7.2, 7.5, 7.2, 7.6, 7.9, 7.4, 7.1, 7.4, 7.0, 6.6, 6.1, 5.7,
      5.5, 5.8, 6.6, 7.2, 7.5, 7.8, 7.4, 7.1, 7.5, 7.2, 6.9, 7.3, 7.0, 6.6, 6.1, 5.7, 5.4, 5.6,
      6.3, 7.0, 7.4, 7.7, 7.3, 7.6, 7.9, 7.5, 7.2, 7.5, 7.1, 6.7, 6.2, 5.8, 5.5, 5.4, 5.9, 6.8,
      7.3, 7.0, 7.4, 7.8, 7.5, 7.2, 7.6, 7.3, 6.8, 6.2, 5.7, 6.0, 6.9, 7.5, 7.8, 7.4]
d4 = [7.2, 7.0, 7.6, 8.3, 8.6, 8.2, 8.5, 8.1, 8.4, 8.7, 8.3, 8.0, 8.4, 7.9, 7.4, 6.9, 6.6, 6.4,
      7.0, 7.8, 8.3, 8.6, 8.2, 8.5, 8.1, 7.8, 7.4, 7.0, 6.6, 6.3, 6.2, 6.8, 7.6, 8.2, 8.5, 8.1,
      8.4, 8.0, 7.5, 7.0, 6.6, 6.2, 5.9, 6.3, 7.2, 8.0, 8.4, 8.7, 8.3, 8.6, 8.2, 7.6, 7.0, 6.6,
      6.3, 6.1, 6.5, 7.4, 8.1, 8.4, 8.0, 8.3, 7.8, 7.2, 6.7, 6.4, 6.1, 6.6, 7.5, 8.2, 8.6, 8.3,
      8.7, 8.4, 8.1, 7.7, 7.2, 6.7, 6.3, 6.0, 6.4, 7.3, 8.0, 8.5, 8.2, 8.6, 8.3, 8.0, 8.4, 8.1,
      7.6, 7.1, 6.6, 6.3, 6.1, 6.6, 7.5, 8.2, 8.5, 8.2, 8.6, 8.2, 7.8, 7.3, 6.8, 6.4, 6.2, 6.0,
      6.6, 7.5, 8.1, 8.4, 8.0, 8.3, 8.7, 8.2, 7.7, 7.1, 6.6, 6.3, 6.1, 6.0, 5.8, 6.4, 7.3, 8.0,
      8.4, 8.1, 8.5, 8.2, 7.7, 7.1, 6.6, 6.2, 6.0, 5.9, 6.5, 7.4, 8.1, 8.5, 8.2, 8.6, 8.3, 7.8,
      7.2, 6.7, 6.4, 6.2, 6.0, 6.6, 7.5, 8.2, 8.6, 8.3, 8.0, 7.5, 7.0, 6.5, 6.2, 6.0, 6.5, 7.4,
      8.1, 8.5, 8.8, 8.4, 8.1, 7.6, 7.0, 6.6, 6.3, 6.0, 5.8, 6.4, 7.3, 8.1, 8.5, 8.2, 8.6, 8.3,
      7.8, 7.2, 6.7, 6.3, 6.1, 6.0, 6.6, 7.5, 8.2, 8.6, 8.3, 8.7, 8.2, 7.6, 7.0, 6.5, 6.2, 6.0,
      6.6, 7.6, 8.3, 8.6, 8.2, 8.5, 8.1, 8.4, 8.0, 7.6, 7.1, 6.7, 6.4, 6.2, 6.0, 5.7, 5.5, 5.8,
      6.6, 7.6, 8.3, 8.7, 8.3, 8.6, 8.2, 8.5, 8.1, 7.6, 7.0, 6.6, 6.3, 6.1, 6.0, 6.6, 7.5, 8.2,
      8.6, 8.3, 8.8, 8.4, 8.0, 7.4, 6.9, 6.4, 6.1, 6.0, 6.5, 7.4, 8.1, 8.5, 8.2, 8.0]

# axis ticks and their labels per panel
ticks_a = [[8, 9, 10], [8, 9, 10], [9, 10, 11], [9, 10, 11]]
ticks_b = [[7, 8, 9], [7, 8, 9], [6, 8, 10], [6, 8, 10]]
ticks_c = [[6, 7, 8], [6, 7.5, 9], [6, 8, 10], [5, 7, 9]]
ticks_d = [[2, 4, 6], [2, 4, 6], [4, 6, 8], [5, 7, 9]]
labels_c2 = ["6", "7", "9"]
captions = ["Condition 1", "Condition 2", "Condition 3", "Condition 4"]
group_titles = ["(a) Bubbly flow", "(b) Slug flow", "(c) Churn flow", "(d) Annular flow"]
x_tick_values = [0, 5]

# ---------------- layout (screen pixels) ----------------
W, H = 1250, 640
OFF = 8
BLUE = "#0072BD"
DARK = "#2b2b2b"
SERIF = "Liberation Serif"

groups = [
    dict(title=group_titles[0], tpos=(329, 303), x=(25, 619),
         series=[a1, a2, a3, a4], ticks=ticks_a, labels=[None] * 4,
         dom=[(7.91, 10.55), (7.85, 10.5), (8.68, 11.24), (8.86, 11.44)],
         box=[(9.3, 52.5), (76, 119.3), (145, 187.7), (217.3, 261)],
         cap=[64, 132, 201, 270]),
    dict(title=group_titles[1], tpos=(946, 303), x=(655, 1253),
         series=[b1, b2, b3, b4], ticks=ticks_b, labels=[None] * 4,
         dom=[(6.68, 9.26), (6.81, 9.6), (5.72, 10.15), (5.32, 10.72)],
         box=[(9.3, 56.7), (75, 120.7), (149, 193.3), (215, 260)],
         cap=[64, 135, 205, 269]),
    dict(title=group_titles[2], tpos=(326, 638), x=(27, 607),
         series=[c1, c2, c3, c4], ticks=ticks_c, labels=[None, labels_c2, None, None],
         dom=[(5.61, 8.6), (4.82, 9.34), (5.38, 10.24), (4.51, 10.7)],
         box=[(349.3, 391.7), (414, 457.3), (481, 522.3), (543.3, 586)],
         cap=[403, 467, 533, 598]),
    dict(title=group_titles[3], tpos=(953, 638), x=(661, 1240),
         series=[d1, d2, d3, d4], ticks=ticks_d, labels=[None] * 4,
         dom=[(0.24, 7.28), (1.0, 7.8), (2.94, 8.44), (4.38, 9.88)],
         box=[(349, 393), (412, 458), (478, 522), (543, 587)],
         cap=[400, 466, 531, 597]),
]

layers = []
for g in groups:
    L, R = g["x"][0] - OFF, g["x"][1] - OFF
    for k in range(4):
        vals = g["series"][k]
        lo, hi = g["dom"][k]
        top, bot = g["box"][k][0] - OFF, g["box"][k][1] - OFF
        capy = g["cap"][k] - OFF
        ticks = g["ticks"][k]
        labs = g["labels"][k]
        n = len(vals)
        df = pd.DataFrame({"t": [5.0 * i / (n - 1) for i in range(n)], "v": vals})
        xs = alt.Scale(domain=[0, 5], range=[L, R], nice=False, zero=False)
        ys = alt.Scale(domain=[lo, hi], range=[bot, top], nice=False, zero=False)

        yaxis_kw = dict(orient="left", offset=-(L + 11), values=ticks, tickSize=11,
                        tickWidth=2, tickColor=DARK, domain=False, grid=False,
                        labelFont=SERIF, labelFontSize=12, labelColor="black",
                        labelPadding=1, labelFlush=False, labelOverlap=False,
                        labelBaseline="middle", title=None)
        if labs is not None:
            expr = "datum.label"
            for v, s in zip(ticks, labs):
                expr = f"datum.value == {v} ? '{s}' : ({expr})"
            yaxis_kw["labelExpr"] = expr

        line = alt.Chart(df).mark_line(color=BLUE, strokeWidth=1.6).encode(
            x=alt.X("t:Q", scale=xs, axis=alt.Axis(
                orient="bottom", offset=bot - H, values=x_tick_values, ticks=False,
                tickSize=0, domain=False, grid=False, format="d",
                labelFont=SERIF, labelFontSize=18, labelColor="black",
                labelPadding=capy - bot, labelBaseline="middle", labelFlush=False,
                labelOverlap=False,
                title=captions[k], titleFont=SERIF, titleFontSize=11.5,
                titleFontWeight="normal", titleColor="black",
                titleX=(L + R) / 2 + 23, titleY=capy - bot,
                titleBaseline="middle", titleAlign="center")),
            y=alt.Y("v:Q", scale=ys, axis=alt.Axis(**yaxis_kw)),
        )

        fdf = pd.DataFrame({"x0": [0], "x1": [5], "y0": [lo], "y1": [hi]})
        frame = alt.Chart(fdf).mark_rect(fillOpacity=0, stroke=DARK, strokeWidth=2).encode(
            x=alt.X("x0:Q", scale=xs, axis=None),
            x2="x1:Q",
            y=alt.Y("y0:Q", scale=ys, axis=alt.Axis(
                orient="right", offset=(R - 11) - W, values=ticks, tickSize=11,
                tickWidth=2, tickColor=DARK, domain=False, grid=False,
                labels=False, title=None)),
            y2="y1:Q",
        )
        layers += [line, frame]

    tdf = pd.DataFrame({"s": [g["title"]]})
    layers.append(
        alt.Chart(tdf).mark_text(font=SERIF, fontSize=20, color="black",
                                 align="center", baseline="middle").encode(
            text="s:N", x=alt.value(g["tpos"][0] - OFF), y=alt.value(g["tpos"][1] - OFF))
    )

chart = alt.layer(*layers).resolve_scale(x="independent", y="independent").properties(
    width=W, height=H, padding=0, autosize=alt.AutoSizeParams(type="none"),
    background="white",
).configure_view(stroke=None)

chart.save("out.html", embed_options={"renderer": "svg", "actions": False})
